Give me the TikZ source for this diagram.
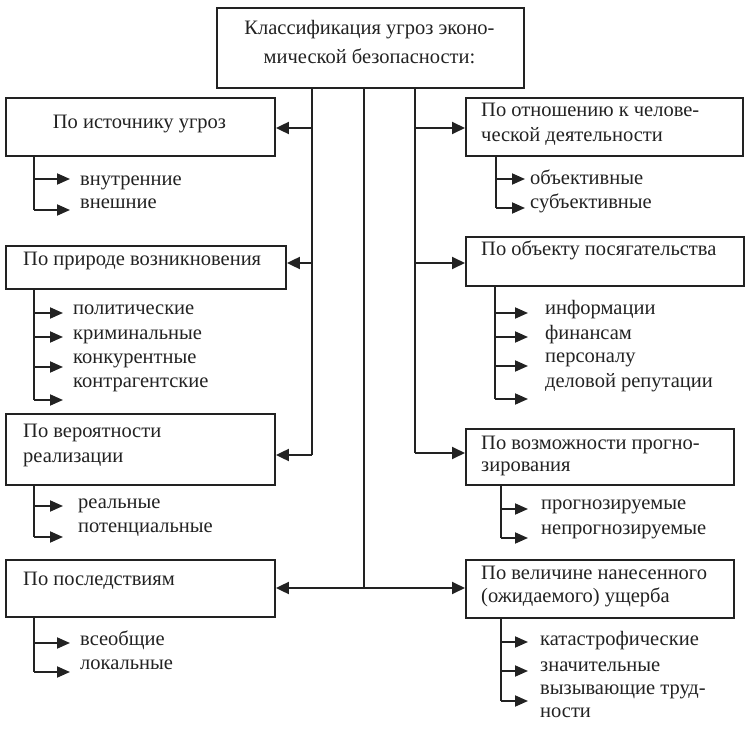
\documentclass[tikz,border=0pt]{standalone}
\usepackage{fontspec}
\setmainfont{Liberation Serif}
\usetikzlibrary{arrows.meta}
\definecolor{ink}{HTML}{222222}
\tikzset{
  box/.style={draw=ink, line width=1.9pt, rectangle, anchor=north west, inner sep=0pt},
  txt/.style={text=ink, inner sep=0pt, anchor=mid west, font=\fontsize{20.5}{24}\selectfont},
  ctxt/.style={txt, anchor=mid},
  ln/.style={draw=ink, line width=1.9pt},
  marr/.style={ln, -{Triangle[length=13pt,width=12pt]}},
  sarr/.style={ln, -{Triangle[length=13pt,width=11pt]}},
}
\begin{document}
\begin{tikzpicture}[x=1pt,y=-1pt]
\useasboundingbox (0,0) rectangle (748,730);
% boxes
\node[box, minimum width=307pt, minimum height=80pt] (top) at (216,7) {};
\node[box, minimum width=269pt, minimum height=58pt] (L1) at (5,97) {};
\node[box, minimum width=280pt, minimum height=43pt] (L2) at (5,245) {};
\node[box, minimum width=269pt, minimum height=71pt] (L3) at (5,413) {};
\node[box, minimum width=269pt, minimum height=57pt] (L4) at (5,559) {};
\node[box, minimum width=277pt, minimum height=58pt] (R1) at (465,97) {};
\node[box, minimum width=278pt, minimum height=49pt] (R2) at (465,236) {};
\node[box, minimum width=268pt, minimum height=56pt] (R3) at (465,428) {};
\node[box, minimum width=268pt, minimum height=58pt] (R4) at (465,559) {};
% box texts
\node[ctxt] (t1) at (369.5,32) {Классификация угроз эконо-};
\node[ctxt] (t2) at (369.5,61) {мической безопасности:};
\node[ctxt] (l1t) at (139.5,126) {По источнику угроз};
\node[txt] (l2t) at (23,263) {По природе возникновения};
\node[txt] (l3t1) at (23,435) {По вероятности};
\node[txt] (l3t2) at (23,460) {реализации};
\node[txt] (l4t) at (23,583) {По последствиям};
\node[txt] (r1t1) at (481,114) {По отношению к челове-};
\node[txt] (r1t2) at (481,139) {ческой деятельности};
\node[txt] (r2t) at (481,253) {По объекту посягательства};
\node[txt] (r3t1) at (481,447) {По возможности прогно-};
\node[txt] (r3t2) at (481,469) {зирования};
\node[txt] (r4t1) at (481,577) {По величине нанесенного};
\node[txt] (r4t2) at (481,600) {(ожидаемого) ущерба};
% trunk junctions
\coordinate (jL1) at (312,128);
\coordinate (jL2) at (312,263);
\coordinate (jL3) at (312,455);
\coordinate (jM) at (364,588);
\coordinate (jR1) at (415,128);
\coordinate (jR2) at (415,263);
\coordinate (jR3) at (415,453);
\draw[ln] (top.south -| jL1) -- (jL3);
\draw[ln] (top.south -| jM) -- (jM);
\draw[ln] (top.south -| jR1) -- (jR3);
\draw[marr] (jL1) -- (jL1 -| L1.east);
\draw[marr] (jL2) -- (jL2 -| L2.east);
\draw[marr] (jL3) -- (jL3 -| L3.east);
\draw[marr] (jM) -- (jM -| L4.east);
\draw[marr] (jM) -- (jM -| R4.west);
\draw[marr] (jR1) -- (jR1 -| R1.west);
\draw[marr] (jR2) -- (jR2 -| R2.west);
\draw[marr] (jR3) -- (jR3 -| R3.west);
% sub-branches (left)
\foreach \y [count=\i] in {179,210} {
  \coordinate (a\i) at (34,\y); \coordinate (b\i) at (70,\y);
  \draw[sarr] (a\i) -- (b\i);}
\draw[ln] (L1.south -| a1) -- (a2);
\node[txt] (i11) at (80,183) {внутренние};
\node[txt] (i12) at (80,206) {внешние};

\foreach \y [count=\i] in {313,337,367,400} {
  \coordinate (c\i) at (34,\y); \coordinate (d\i) at (63,\y);
  \draw[sarr] (c\i) -- (d\i);}
\draw[ln] (L2.south -| c1) -- (c4);
\node[txt] (i21) at (73,312) {политические};
\node[txt] (i22) at (73,337) {криминальные};
\node[txt] (i23) at (73,361) {конкурентные};
\node[txt] (i24) at (73,385) {контрагентские};

\foreach \y [count=\i] in {506,537} {
  \coordinate (e\i) at (34,\y); \coordinate (f\i) at (63,\y);
  \draw[sarr] (e\i) -- (f\i);}
\draw[ln] (L3.south -| e1) -- (e2);
\node[txt] (i31) at (78,506) {реальные};
\node[txt] (i32) at (78,530) {потенциальные};

\foreach \y [count=\i] in {643,672} {
  \coordinate (g\i) at (34,\y); \coordinate (h\i) at (70,\y);
  \draw[sarr] (g\i) -- (h\i);}
\draw[ln] (L4.south -| g1) -- (g2);
\node[txt] (i41) at (80,643) {всеобщие};
\node[txt] (i42) at (80,667) {локальные};
% sub-branches (right)
\foreach \y [count=\i] in {179,208} {
  \coordinate (p\i) at (496,\y); \coordinate (q\i) at (525,\y);
  \draw[sarr] (p\i) -- (q\i);}
\draw[ln] (R1.south -| p1) -- (p2);
\node[txt] (j11) at (530,182) {объективные};
\node[txt] (j12) at (530,206) {субъективные};

\foreach \y [count=\i] in {313,337,366,399} {
  \coordinate (r\i) at (495,\y); \coordinate (s\i) at (528,\y);
  \draw[sarr] (r\i) -- (s\i);}
\draw[ln] (R2.south -| r1) -- (r4);
\node[txt] (j21) at (545,312) {информации};
\node[txt] (j22) at (545,337) {финансам};
\node[txt] (j23) at (545,360) {персоналу};
\node[txt] (j24) at (545,385) {деловой репутации};

\foreach \y [count=\i] in {509,538} {
  \coordinate (u\i) at (501,\y); \coordinate (v\i) at (528,\y);
  \draw[sarr] (u\i) -- (v\i);}
\draw[ln] (R3.south -| u1) -- (u2);
\node[txt] (j31) at (541,507) {прогнозируемые};
\node[txt] (j32) at (541,532) {непрогнозируемые};

\foreach \y [count=\i] in {642,671,701} {
  \coordinate (w\i) at (501,\y); \coordinate (z\i) at (528,\y);
  \draw[sarr] (w\i) -- (z\i);}
\draw[ln] (R4.south -| w1) -- (w3);
\node[txt] (j41) at (540,643) {катастрофические};
\node[txt] (j42) at (540,669) {значительные};
\node[txt] (j43) at (540,692) {вызывающие труд-};
\node[txt] (j44) at (540,715) {ности};
\end{tikzpicture}
\end{document}
